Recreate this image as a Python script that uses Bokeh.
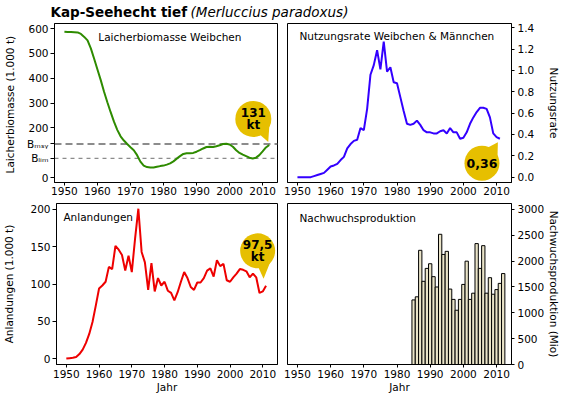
import math
from bokeh.plotting import figure
from bokeh.models import Range1d, Span, Label, FixedTicker, PrintfTickFormatter
from bokeh.layouts import column, row
from bokeh.core.properties import value
from bokeh.embed import file_html
from bokeh.resources import INLINE

# ---------------- data ----------------
title_main = "Kap-Seehecht tief"
title_species = "(Merluccius paradoxus)"

ssb_years = list(range(1950, 2013))
ssb = [587, 586, 586, 585, 584, 578, 566, 552, 520, 478,
       435, 392, 345, 303, 263, 225, 192, 166, 149, 135,
       122, 110, 90, 64, 48, 42, 40, 40, 43, 46,
       48, 52, 57, 65, 76, 86, 95, 98, 98, 99,
       104, 110, 117, 123, 124, 123, 126, 130, 135, 136,
       133, 124, 110, 99, 92, 86, 80, 77, 80, 90,
       105, 121, 131]
b_msy = 135
b_lim = 77
b_msy_label = "Bₘₛᵧ"
b_lim_label = "Bₗᵢₘ"

f_years = list(range(1950, 2012))
f_rate = [0.0, 0.0, 0.0, 0.0, 0.0, 0.01, 0.02, 0.03, 0.04, 0.07,
          0.10, 0.11, 0.125, 0.16, 0.19, 0.27, 0.31, 0.34, 0.35, 0.46,
          0.44, 0.64, 0.96, 1.05, 1.19, 1.01, 1.27, 0.99, 1.03, 0.89,
          0.88, 0.75, 0.62, 0.50, 0.49, 0.50, 0.53, 0.49, 0.44, 0.42,
          0.42, 0.41, 0.41, 0.43, 0.44, 0.41, 0.46, 0.42, 0.42, 0.36,
          0.37, 0.42, 0.50, 0.56, 0.61, 0.65, 0.65, 0.64, 0.56, 0.41,
          0.375, 0.36]

land_years = list(range(1950, 2012))
landings = [0, 0.5, 1, 2, 6, 12, 21, 33, 49, 71,
            94, 98, 103, 123, 120, 151, 146, 139, 118, 138,
            116, 161, 201, 143, 129, 92, 128, 90, 108, 98,
            103, 91, 88, 78, 89, 103, 116, 108, 96, 92,
            102, 102, 108, 118, 121, 110, 132, 124, 127, 105,
            103, 109, 114, 120, 119, 117, 109, 114, 109, 88,
            90, 97.5]

rec_years = list(range(1985, 2013))
recruits = [1250, 1310, 2210, 1610, 1860, 1950, 1700, 1500, 2520, 2130,
            2190, 1460, 1260, 1050, 1260, 1550, 2000, 1260, 1380, 2340,
            1860, 2300, 1380, 1680, 1360, 1450, 1570, 1760]

x_ticks = [1950, 1960, 1970, 1980, 1990, 2000, 2010]
ssb_ticks = [0, 200, 300, 400, 500, 600]
f_ticks = [0.0, 0.2, 0.4, 0.6, 0.8, 1.0, 1.2, 1.4]
land_ticks = [0, 50, 100, 150, 200]
rec_ticks = [0, 500, 1000, 1500, 2000, 2500, 3000]

panel_titles = ["Laicherbiomasse Weibchen", "Nutzungsrate Weibchen & Männchen",
                "Anlandungen", "Nachwuchsproduktion"]
axis_titles = ["Laicherbiomasse  (1.000 t)", "Nutzungsrate",
               "Anlandungen (1.000 t)", "Nachwuchsproduktion (Mio)"]
x_title = "Jahr"
ssb_callout = ["131", "kt"]
f_callout = ["0,36"]
land_callout = ["97,5", "kt"]

# ---------------- style ----------------
FONT = "DejaVu Sans"
FS = "10.5px"
X_RANGE = (1947.0, 2014.5)
LW, RW = 282, 281
TH, BH = 178, 196
GOLD = "#E6BF00"


class Geo:
    def __init__(self, xr, yr, fw, fh):
        self.xr, self.yr, self.fw, self.fh = xr, yr, fw, fh
        self.sx = fw / (xr[1] - xr[0])
        self.sy = fh / (yr[1] - yr[0])

    def d(self, px, py):
        return self.xr[0] + px / self.sx, self.yr[1] - py / self.sy

    def off(self, x, y, dx, dy):
        return x + dx / self.sx, y - dy / self.sy


def make_fig(w, h, yr, side, top, bottom, yticks):
    left = 53 if side == "left" else 5
    right = 5 if side == "left" else 51
    p = figure(width=w, height=h, x_range=Range1d(*X_RANGE), y_range=Range1d(*yr),
               output_backend="svg", toolbar_location=None, y_axis_location=side,
               title=None,
               min_border_left=left, min_border_right=right,
               min_border_top=top, min_border_bottom=bottom)
    p.grid.visible = False
    p.outline_line_color = "black"
    p.outline_line_alpha = 1.0
    for ax in p.axis:
        ax.major_label_text_font = FONT
        ax.major_label_text_font_size = FS
        ax.major_label_text_color = "black"
        ax.minor_tick_line_color = None
        ax.major_tick_in = 0
        ax.major_tick_out = 3
        ax.axis_line_color = "black"
        ax.major_tick_line_color = "black"
        ax.axis_label_text_font = FONT
        ax.axis_label_text_font_size = FS
        ax.axis_label_text_font_style = "normal"
        ax.axis_label_text_color = "black"
    p.xaxis.ticker = FixedTicker(ticks=x_ticks)
    p.yaxis.ticker = FixedTicker(ticks=yticks)
    p.yaxis.major_tick_out = 4 if side == "left" else 3
    p.yaxis.major_label_standoff = 2 if side == "left" else 3
    p.xaxis.major_label_standoff = 1 if bottom < 25 else 2
    g = Geo(X_RANGE, yr, w - left - right, h - top - bottom)
    return p, g


def panel_title(p, g, text, px, py):
    x, y = g.d(px, py)
    p.add_layout(Label(x=x, y=y, text=text, text_font=FONT, text_font_size=FS,
                       text_align="left", text_baseline="middle", text_color="black"))


def callout(p, g, x, y, c_off, r, tip_off, base_angles, lines, fs="12px"):
    cx, cy = g.off(x, y, *c_off)
    pts = []
    for a in base_angles:
        rad = math.radians(a)
        pts.append(g.off(x, y, c_off[0] + 0.92 * r * math.cos(rad),
                         c_off[1] + 0.92 * r * math.sin(rad)))
    pts.insert(1, g.off(x, y, *tip_off))
    p.patch([q[0] for q in pts], [q[1] for q in pts], fill_color=GOLD, line_color=None)
    p.scatter(x=[cx], y=[cy], size=2 * r, marker="circle", fill_color=GOLD, line_color=None)
    n = len(lines)
    for i, t in enumerate(lines):
        dy = (i - (n - 1) / 2) * 12
        tx, ty = g.off(x, y, c_off[0], c_off[1] + dy)
        p.text(x=[tx], y=[ty], text=[t], text_font=value(FONT), text_font_style="bold",
               text_font_size=fs, text_align="center", text_baseline="middle",
               text_color="black")


# ---------------- title ----------------
tw = 563
pt = figure(width=tw, height=22, x_range=Range1d(0, tw), y_range=Range1d(0, 22),
            output_backend="svg", toolbar_location=None, title=None,
            x_axis_type=None, y_axis_type=None, min_border=0,
            min_border_left=0, min_border_right=0, min_border_top=0, min_border_bottom=0)
pt.grid.visible = False
pt.outline_line_color = None
pt.add_layout(Label(x=50, y=11, text=title_main, text_font=FONT, text_font_size="13.5px",
                    text_font_style="bold", text_baseline="middle", text_color="black"))
pt.add_layout(Label(x=190, y=11, text=title_species, text_font=FONT, text_font_size="13.5px",
                    text_font_style="italic", text_baseline="middle", text_color="black"))

# ---------------- panel 1: SSB ----------------
p1, g1 = make_fig(LW, TH, (-20, 620), "left", 1, 18, sorted(ssb_ticks + [b_lim, b_msy]))
p1.yaxis.major_label_overrides = {b_msy: b_msy_label, b_lim: b_lim_label}
p1.add_layout(Span(location=b_msy, dimension="width", line_color="#8C8C8C",
                   line_width=1.8, line_dash="7 4", level="underlay"))
p1.add_layout(Span(location=b_lim, dimension="width", line_color="#8C8C8C",
                   line_width=1.3, line_dash="4 4", level="underlay"))
p1.line(ssb_years, ssb, line_color="#2E8B00", line_width=2)
panel_title(p1, g1, panel_titles[0], 44, 13)
p1.yaxis.axis_label = axis_titles[0]
p1.yaxis.axis_label_standoff = 8
callout(p1, g1, ssb_years[-1], ssb[-1], (-16, -26), 18, (-1, -3), (8, 68), ssb_callout)

# ---------------- panel 2: F ----------------
p2, g2 = make_fig(RW, TH, (-0.05, 1.44), "right", 1, 18, f_ticks)
p2.yaxis.formatter = PrintfTickFormatter(format="%.1f")
p2.line(f_years, f_rate, line_color="#3300FF", line_width=2)
panel_title(p2, g2, panel_titles[1], 12, 12.7)
p2.yaxis.axis_label = axis_titles[1]
p2.yaxis.axis_label_standoff = 11
callout(p2, g2, f_years[-1], f_rate[-1], (-18, 24.5), 17.5, (-2, 3.5), (-15, -72), f_callout,
        fs="12.5px")

# ---------------- panel 3: landings ----------------
p3, g3 = make_fig(LW, BH, (-8, 208), "left", 3, 32, land_ticks)
p3.line(land_years, landings, line_color="#EE0000", line_width=2)
panel_title(p3, g3, panel_titles[2], 7, 13.7)
p3.yaxis.axis_label = axis_titles[2]
p3.yaxis.axis_label_standoff = 12
callout(p3, g3, land_years[-1], landings[-1], (-8.5, -35), 17.5, (-2.5, -7), (28, 88),
        land_callout)

# ---------------- panel 4: recruitment ----------------
p4, g4 = make_fig(RW, BH, (0, 3116), "right", 3, 32, rec_ticks)
p4.vbar(x=rec_years, top=recruits, width=1.0, bottom=0, fill_color="#EAE4C8",
        line_color="black", line_width=1)
panel_title(p4, g4, panel_titles[3], 12, 14.7)
p4.yaxis.axis_label = axis_titles[3]
p4.yaxis.axis_label_standoff = 1

for p in (p3, p4):
    p.xaxis.axis_label = x_title
    p.xaxis.axis_label_standoff = 0

layout = column(pt, row(p1, p2), row(p3, p4))
open("out.html", "w").write(file_html(layout, INLINE))
